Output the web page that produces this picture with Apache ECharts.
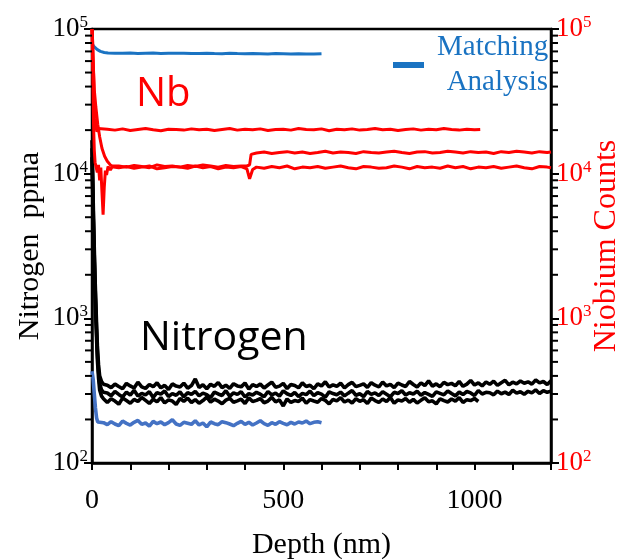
<!DOCTYPE html>
<html>
<head>
<meta charset="utf-8">
<script src="https://cdn.jsdelivr.net/npm/echarts@6/dist/echarts.min.js"></script>
<style>html,body{margin:0;padding:0;background:#fff}#c{width:621px;height:560px}</style>
</head>
<body>
<div id="c"></div>
<script>
// ---------- axis tick values ----------
const xTickLabels = [0, 500, 1000];
const yMajorTicks = [100, 1000, 10000, 100000];
const yMinorTicks = [200,300,400,500,600,700,800,900,2000,3000,4000,5000,6000,7000,8000,9000,20000,30000,40000,50000,60000,70000,80000,90000];

// ---------- Nitrogen (ppma, left axis) ----------
const nitroA_start = [[0,17000],[2,9000],[4,5000],[6,3000],[8,1900],[10,1300],[12,900],[14,650],[17,480],[20,400],[25,365],[30,350],[35,345]];
const nitroA_grid = {from: 40, step: 10};
const nitroA = [
345,332,351,338,326,355,341,330,362,336,
328,349,337,358,331,344,322,352,340,335,
356,329,343,381,333,347,326,350,339,360,
332,345,328,353,341,336,357,324,348,338,
351,330,346,362,334,340,355,327,349,343,
331,358,338,345,326,352,341,364,335,347,
339,356,330,348,361,337,344,352,333,359,
345,336,363,341,350,332,357,346,338,366,
349,335,358,343,370,340,352,337,361,348,
355,342,366,339,351,372,346,358,341,363,
350,368,344,359,373,347,362,352,369,356,
364,351,375,358,366,349,370];

const nitroB_start = [[0,15000],[2,8000],[4,4400],[6,2650],[8,1700],[10,1150],[12,800],[14,580],[17,430],[20,355],[25,320],[30,308],[35,302]];
const nitroB_grid = {from: 40, step: 10};
const nitroB = [
305,292,312,298,286,309,295,318,290,303,
296,311,284,307,299,315,288,302,294,310,
287,306,298,313,291,304,297,283,309,300,
293,316,289,305,298,311,286,302,295,308,
299,287,312,296,304,290,315,301,293,307,
288,303,297,314,292,306,299,285,310,302,
296,309,291,304,317,294,301,288,312,298,
305,293,311,299,287,308,302,316,295,306,
300,313,294,307,298,289,310,303,296,315,
302,291,309,297,312,305,293,317,300,308,
306,296,314,301,309,298,318,304,311,299,
313,305,320,302,316,308,314];

const nitroC_start = [[0,13000],[2,7000],[4,3900],[6,2350],[8,1500],[10,1020],[12,720],[14,520],[17,390],[20,320],[25,290],[30,278],[35,272]];
const nitroC_grid = {from: 40, step: 10};
const nitroC = [
262,278,268,255,281,270,259,275,266,284,
271,258,276,265,283,260,273,268,254,279,
267,281,262,274,259,270,285,264,276,268,
257,272,280,263,269,276,258,282,266,271,
279,261,268,284,265,273,248,277,262,270,
266,281,259,274,268,263,279,271,256,275,
269,283,264,272,260,278,267,274,258,281,
270,262,277,266,284,259,273,268,279,263,
275,260,271,282,265,269,256,278,270,264,
277,268,283,262,274,270,279,266];

// ---------- Matching analysis (blue) ----------
const matchHigh_start = [[0,80000],[4,76000],[8,74000],[14,72000],[22,70000],[32,68800],[42,68200]];
const matchHigh_grid = {from: 60, step: 20};
const matchHigh = [68100,67900,68300,67800,68000,68200,67700,68000,67900,68100,67600,67800,68000,67700,67500,67900,67600,67400,67700,67500,67300,67600,67400,67200,67500,67300,67100,67400];

const matchLow_start = [[0,430],[3,380],[6,300],[9,240],[12,205],[15,192],[20,188]];
const matchLow_grid = {from: 30, step: 10};
const matchLow = [
190,184,193,186,181,195,188,183,191,197,
185,189,180,194,187,192,184,190,199,186,
182,191,188,185,196,183,189,178,192,187,
184,193,190,186,181,188,194,185,191,183,
189,196,187,182,190,185,193,188,184,191,
186,192,189,195,187,191,193,190];

// ---------- Niobium counts (right axis) ----------
const nb1_start = [[0,100000],[2,80000],[4,50000],[6,32000],[8,24000],[10,21000],[13,19500],[16,20500],[20,20000]];
const nb1_grid = {from: 40, step: 20};
const nb1 = [
20300,20000,20400,19900,20200,20500,20100,19800,20300,20200,
20000,20400,20100,20300,19900,20200,20500,20000,20300,20100,
20400,19900,20200,20300,20000,20500,20200,20100,20400,19800,
20300,20100,20400,20000,20200,20500,20100,20300,19900,20200,
20400,20000,20300,20100,20500,20200,20000,20300,20100];
const nb1_end = [[1015,20200]];

const nb2_start = [[0,100000],[3,60000],[6,38000],[10,29000],[15,22000],[20,18000],[26,15000],[33,13200],[40,12200],[48,11500],[56,11100]];
const nb2_gridA = {from: 70, step: 20};
const nb2_a = [11000,11200,10900,11100,11300,10800,11000,11200,11100,10900,11300,11000,11200,10800,11100,11000,11200];
const nb2_dip = [[405,10800],[412,9200],[416,9000],[420,10700]];
const nb2_gridB = {from: 430, step: 20};
const nb2_b = [
11100,10900,11200,11000,11300,10800,11100,11000,11200,10900,
11100,11300,11000,10800,11200,11100,10900,11000,11300,11100,
10800,11200,11000,11100,10900,11300,11000,11200,10800,11100,
11000,11200,10900,11100,11300,11000,10800,11200,11100];
const nb2_end = [[1200,11000]];

const nb3_start = [[0,100000],[2,50000],[4,22000],[6,14500],[8,12000],[11,11000],[14,10200],[17,11500],[20,9000],[23,11000],[26,7500],[29,5200],[32,8000],[35,10500],[38,9800],[42,11200],[48,10600],[54,11300]];
const nb3_gridA = {from: 70, step: 20};
const nb3_a = [11300,11100,11400,11200,11000,11500,11200,11300,11100,11400,11200,11500,11300,11100,11400,11200,11300];
const nb3_step = [[405,11300],[412,11500],[416,13600],[420,14000]];
const nb3_gridB = {from: 430, step: 20};
const nb3_b = [
13900,14100,13800,14000,14200,13900,14100,13800,14000,14300,
13900,14100,14000,13800,14200,14000,13900,14100,14300,14000,
13800,14100,14200,13900,14000,14300,14100,13900,14200,14000,
14100,13800,14200,14000,14300,14100,13900,14200,14000];
const nb3_end = [[1200,14100]];

// pair measured values with their sampling depths
function onGrid(grid, vals){ return vals.map((v,i)=>[grid.from + i*grid.step, v]); }

const chart = echarts.init(document.getElementById('c'), null, {renderer:'canvas'});
const serif = 'Liberation Serif';
const RED = '#ff0000', BLUE = '#1a73c2', BLUE2 = '#4472c4';

function logLabel(v){ return '{b|10}{s|' + Math.round(Math.log10(v)) + '}'; }
function richFor(color){
  return {
    b:{fontFamily:serif, fontSize:27, color:color, lineHeight:30},
    s:{fontFamily:serif, fontSize:17, color:color, verticalAlign:'top', lineHeight:30, padding:[0,0,14,0]}
  };
}

function lineSeries(name, data, color, yIdx, w){
  return {type:'line', name:name, data:data, yAxisIndex:yIdx, showSymbol:false, symbol:'none',
    lineStyle:{color:color, width:w}, itemStyle:{color:color}, silent:true, clip:true};
}

function minorTickSeries(yIdx, xVal, dir){
  return {
    type:'custom', yAxisIndex:yIdx, silent:true, clip:false, z:10,
    data: yMinorTicks.map(v=>[xVal, v]),
    encode:{x:0, y:1},
    renderItem:function(params, api){
      const p = api.coord([api.value(0), api.value(1)]);
      return {type:'line', shape:{x1:p[0], y1:p[1], x2:p[0]+dir*7, y2:p[1]}, style:{stroke:'#000', lineWidth:2}};
    }
  };
}

const option = {
  animation:false,
  backgroundColor:'#fff',
  grid:{left:92, right:70, top:29, bottom:97, containLabel:false, outerBoundsMode:'none',
        show:true, borderColor:'#000', borderWidth:2.5, backgroundColor:'transparent'},
  legend:{
    left:388, top:25, itemWidth:31, itemHeight:6, icon:'rect', selectedMode:false,
    data:[{name:'Matching Analysis', icon:'rect', itemStyle:{color:BLUE}}],
    formatter:function(){ return '{m|Matching}\n{a|Analysis}'; },
    textStyle:{fontFamily:serif, fontSize:29, color:BLUE, lineHeight:35, padding:[0,0,0,8],
      rich:{m:{fontFamily:serif, fontSize:29, color:BLUE, lineHeight:35, align:'right'},
            a:{fontFamily:serif, fontSize:29, color:BLUE, lineHeight:35, align:'right'}}},
    itemGap:10
  },
  xAxis:{
    type:'value', min:0, max:1200, interval:100,
    name:'Depth (nm)', nameLocation:'middle', nameGap:67, nameMoveOverlap:false,
    nameTextStyle:{fontFamily:serif, fontSize:30, color:'#000'},
    axisLine:{show:true, onZero:false, lineStyle:{color:'#000', width:2.5}},
    axisTick:{show:true, inside:false, length:7, lineStyle:{color:'#000', width:2}},
    axisLabel:{fontFamily:serif, fontSize:28, color:'#000', margin:24,
      formatter:function(v){ return xTickLabels.indexOf(v) >= 0 ? String(v) : ''; }},
    splitLine:{show:false}
  },
  yAxis:[
    {
      type:'log', logBase:10, min:yMajorTicks[0], max:yMajorTicks[yMajorTicks.length-1], position:'left',
      name:'Nitrogen  ppma', nameLocation:'middle', nameGap:47, nameMoveOverlap:false,
      nameTextStyle:{fontFamily:serif, fontSize:30, color:'#000'},
      axisLine:{show:true, lineStyle:{color:'#000', width:2.5}},
      axisTick:{show:true, inside:false, length:8, lineStyle:{color:'#000', width:2}},
      axisLabel:{formatter:logLabel, rich:richFor('#000'), margin:4},
      splitLine:{show:false}, minorTick:{show:false}
    },
    {
      type:'log', logBase:10, min:yMajorTicks[0], max:yMajorTicks[yMajorTicks.length-1], position:'right',
      name:'Niobium Counts', nameLocation:'middle', nameGap:40, nameMoveOverlap:false,
      nameTextStyle:{fontFamily:serif, fontSize:32, color:RED},
      axisLine:{show:true, lineStyle:{color:'#000', width:2.5}},
      axisTick:{show:true, inside:false, length:8, lineStyle:{color:'#000', width:2}},
      axisLabel:{formatter:logLabel, rich:richFor(RED), margin:5},
      splitLine:{show:false}, minorTick:{show:false}
    }
  ],
  graphic:[
    {type:'text', left:136, top:75, silent:true, style:{text:'Nb', fill:RED, font:'40px "Open Sans"'}},
    {type:'text', left:140, top:318, silent:true, style:{text:'Nitrogen', fill:'#000', font:'41px "Open Sans"'}}
  ],
  series:[
    lineSeries('Nitrogen A', nitroA_start.concat(onGrid(nitroA_grid, nitroA)), '#000', 0, 3.6),
    lineSeries('Nitrogen B', nitroB_start.concat(onGrid(nitroB_grid, nitroB)), '#000', 0, 3.6),
    lineSeries('Nitrogen C', nitroC_start.concat(onGrid(nitroC_grid, nitroC)), '#000', 0, 3.6),
    lineSeries('Matching low', matchLow_start.concat(onGrid(matchLow_grid, matchLow)), BLUE2, 0, 3.6),
    lineSeries('Matching Analysis', matchHigh_start.concat(onGrid(matchHigh_grid, matchHigh)), BLUE, 0, 3),
    lineSeries('Nb 1', nb1_start.concat(onGrid(nb1_grid, nb1), nb1_end), RED, 1, 3),
    lineSeries('Nb 2', nb2_start.concat(onGrid(nb2_gridA, nb2_a), nb2_dip, onGrid(nb2_gridB, nb2_b), nb2_end), RED, 1, 3),
    lineSeries('Nb 3', nb3_start.concat(onGrid(nb3_gridA, nb3_a), nb3_step, onGrid(nb3_gridB, nb3_b), nb3_end), RED, 1, 3),
    minorTickSeries(0, 0, -1),
    minorTickSeries(1, 1200, 1)
  ]
};
chart.setOption(option);
</script>
</body>
</html>
